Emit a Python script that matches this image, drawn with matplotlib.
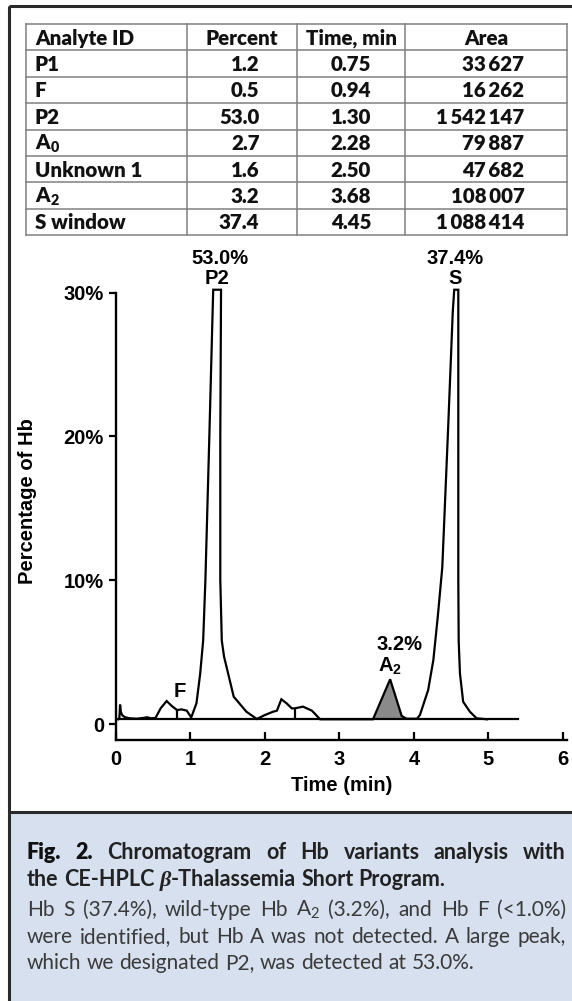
import matplotlib
matplotlib.use('Agg')
import matplotlib.pyplot as plt
from matplotlib.patches import Rectangle

plt.rcParams['font.family'] = ['Liberation Sans', 'DejaVu Sans']
plt.rcParams['font.weight'] = 'bold'
plt.rcParams['axes.labelweight'] = 'bold'

W, H = 572, 1001

# ---- table data ----
headers = ['Analyte ID', 'Percent', 'Time, min', 'Area']
analytes = ['P1', 'F', 'P2', r'$\mathdefault{A_0}$', 'Unknown 1', r'$\mathdefault{A_2}$', 'S window']
percent = [1.2, 0.5, 53.0, 2.7, 1.6, 3.2, 37.4]
times = [0.75, 0.94, 1.30, 2.28, 2.50, 3.68, 4.45]
areas = [33627, 16262, 1542147, 79887, 47682, 108007, 1088414]

# ---- chromatogram trace (time in min, % of Hb) ----
trace_t = [0.030, 0.045, 0.055, 0.065, 0.085, 0.12, 0.18, 0.28, 0.36, 0.42, 0.47, 0.53,
           0.60, 0.68, 0.75, 0.82, 0.88, 0.95, 1.01, 1.08, 1.13, 1.17, 1.20, 1.255,
           1.295, 1.305, 1.41, 1.40, 1.40, 1.42, 1.45, 1.58, 1.75, 1.89, 2.00, 2.11,
           2.16, 2.22, 2.29, 2.36, 2.40, 2.51, 2.63, 2.74, 3.45, 3.68, 3.835, 3.90,
           4.04, 4.08, 4.19, 4.26, 4.32, 4.38, 4.457, 4.52, 4.54, 4.595, 4.595, 4.60,
           4.617, 4.66, 4.75, 4.84, 4.98]
trace_v = [0.33, 0.40, 1.35, 0.85, 0.60, 0.48, 0.40, 0.37, 0.42, 0.47, 0.40, 0.42,
           1.10, 1.60, 1.25, 0.97, 1.02, 0.93, 0.46, 1.44, 3.50, 5.80, 10.0, 20.4,
           28.3, 30.2, 30.2, 20.0, 10.0, 5.80, 4.70, 1.90, 0.86, 0.35, 0.63, 0.86,
           0.93, 1.72, 1.44, 1.09, 1.09, 1.21, 0.93, 0.33, 0.33, 3.11, 0.56, 0.37,
           0.37, 0.63, 2.36, 4.45, 7.5, 10.9, 20.4, 28.6, 30.2, 30.2, 10.0, 5.80,
           3.52, 1.55, 0.86, 0.40, 0.33]
base_t = [0.03, 5.40]
base_v = 0.33
a2_t = [3.45, 3.68, 3.835, 3.90]
a2_v = [0.33, 3.11, 0.56, 0.37]
drop_t = [0.82, 2.40]
drop_v = [0.97, 1.09]

fig = plt.figure(figsize=(W / 100, H / 100), dpi=100)
page = fig.add_axes([0, 0, 1, 1])
page.set_xlim(0, W)
page.set_ylim(H, 0)
page.axis('off')

# frame and caption box
page.add_patch(Rectangle((9, 812), 620, 300, fc='#d7e0ee', ec='none'))
page.add_patch(Rectangle((9, 6), 620, 1100, fill=False, ec='#2a2a2a', lw=2.2))
page.plot([9, W + 10], [812, 812], color='#2a2a2a', lw=2.2)

# ---- table ----
col_x = [26, 187, 297, 405, 567]
row_h = 26.375
top = 24
nrows = len(analytes) + 1
for i in range(nrows + 1):
    page.plot([col_x[0], col_x[-1]], [top + i * row_h] * 2, color='#808080', lw=1.1)
for x in col_x:
    page.plot([x, x], [top, top + nrows * row_h], color='#808080', lw=1.1)

tkw = dict(fontfamily=['Lato', 'DejaVu Sans'], fontweight='heavy', fontsize=14.8, color='#111111', va='center')
cy = top + row_h / 2 + 1
page.text(35, cy, headers[0], ha='left', **tkw)
for j in range(1, 4):
    page.text((col_x[j] + col_x[j + 1]) / 2, cy, headers[j], ha='center', **tkw)
for i in range(len(analytes)):
    y = top + (i + 1.5) * row_h + 1
    page.text(35, y, analytes[i], ha='left', **tkw)
    page.text(259.5, y, f'{percent[i]:.1f}', ha='right', **tkw)
    page.text(351, y, f'{times[i]:.2f}', ha='center', **tkw)
    page.text(524.5, y, f'{areas[i]:,}'.replace(',', '\u2009'), ha='right', **tkw)

# ---- chromatogram ----
ax = fig.add_axes([116 / W, 1 - 740 / H, 450.7 / W, 447.4 / H])
ax.patch.set_alpha(0)
ax.set_xlim(0, 6.05)
ax.set_ylim(-1.11, 30)
ax.spines[['top', 'right']].set_visible(False)
for sp in ['left', 'bottom']:
    ax.spines[sp].set_linewidth(1.7)

ax.fill_between(a2_t, a2_v, base_v, color='#8a8a8a', lw=0)
ax.plot(base_t, [base_v, base_v], color='black', lw=1.6)
ax.plot(trace_t, trace_v, color='black', lw=1.6, clip_on=False, solid_joinstyle='miter')
ax.vlines(drop_t, base_v, drop_v, color='black', lw=1.6)

ax.set_xticks(range(7))
ax.tick_params(axis='x', direction='in', length=6, width=1.6, pad=7, labelsize=14.5)
ax.set_yticks([0, 10, 20, 30])
ax.set_yticklabels(['0', '10%', '20%', '30%'])
ax.tick_params(axis='y', direction='out', length=4.7, width=1.6, pad=4, labelsize=14.5)
ax.set_xlabel('Time (min)', fontsize=14.5, labelpad=5)
ax.set_ylabel('Percentage of Hb', fontsize=14.5)
ax.yaxis.set_label_coords(-0.175, 0.535)

lkw = dict(ha='center', va='center', fontsize=14.5, clip_on=False)
ax.text(1.395, 32.4, '53.0%', **lkw)
ax.text(1.36, 31.0, 'P2', **lkw)
ax.text(4.556, 32.4, '37.4%', **lkw)
ax.text(4.556, 31.0, 'S', **lkw)
ax.text(3.81, 5.5, '3.2%', **lkw)
ax.text(3.68, 4.0, r'$\mathdefault{A_2}$', **lkw)
ax.text(0.85, 2.25, 'F', **lkw)

# ---- caption ----
renderer = fig.canvas.get_renderer()
LATO = ['Lato', 'DejaVu Sans']
B = dict(fontfamily=LATO, fontweight='heavy', fontsize=15.5, color='#111111')
SB = dict(fontfamily=LATO, fontweight='bold', fontsize=15.5, color='#222222')
BETA = dict(fontfamily=['Liberation Serif', 'DejaVu Serif'], fontstyle='italic', fontweight='bold', fontsize=16, color='#222222')
R = dict(fontfamily=LATO, fontweight='normal', fontsize=15, color='#3a3a3a')


def words(s, kw):
    return [[(w, kw)] for w in s.split()]


def draw_line(line, y, x0=27, x1=566, justify=True):
    placed = []
    for runs in line:
        ts = []
        for s, kw in runs:
            ts.append(page.text(0, y, s, ha='left', va='baseline', **kw))
        placed.append(ts)
    widths = [[t.get_window_extent(renderer).width for t in ts] for ts in placed]
    total = sum(sum(w) for w in widths)
    kw0 = line[0][0][1]
    a = page.text(0, 0, 'a a', **kw0)
    b = page.text(0, 0, 'aa', **kw0)
    space = a.get_window_extent(renderer).width - b.get_window_extent(renderer).width
    a.remove()
    b.remove()
    gap = (x1 - x0 - total) / (len(line) - 1) if justify else space
    x = x0
    for ts, ws in zip(placed, widths):
        for t, w in zip(ts, ws):
            t.set_x(x)
            x += w
        x += gap


title1 = [[('Fig.', B)], [('2.', B)]] + words('Chromatogram of Hb variants analysis with', SB)
title2 = words('the CE-HPLC', SB) + [[('β', BETA), ('-Thalassemia', SB)]] + words('Short Program.', SB)
body1 = (words('Hb S (37.4%), wild-type Hb', R) + [[(r'$\mathdefault{A_2}$', R)]]
         + words('(3.2%), and Hb F (<1.0%)', R))
body2 = words('were identified, but Hb A was not detected. A large peak,', R)
body3 = words('which we designated P2, was detected at 53.0%.', R)

draw_line(title1, 859)
draw_line(title2, 886, justify=False)
draw_line(body1, 916)
draw_line(body2, 943)
draw_line(body3, 969, justify=False)

fig.savefig('out.png', dpi=100)
